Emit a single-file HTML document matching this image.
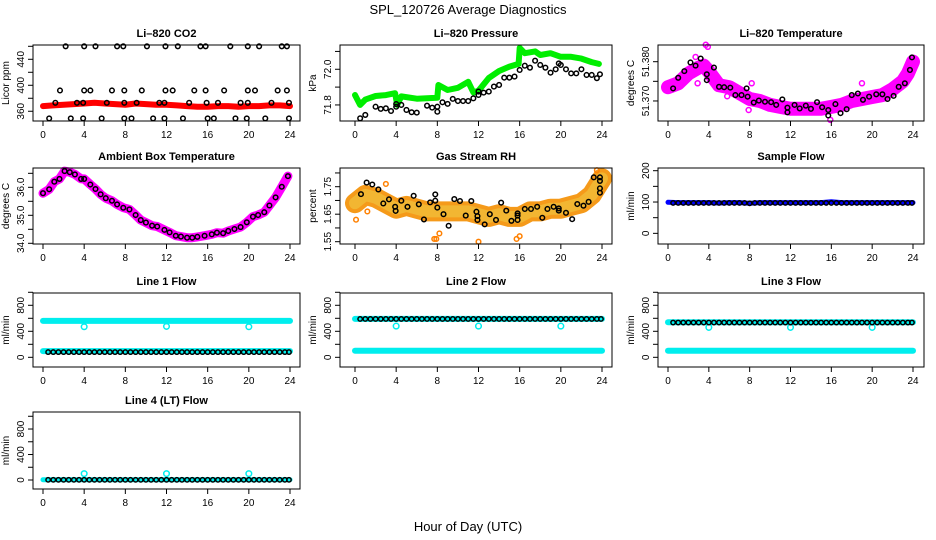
<!DOCTYPE html>
<html><head><meta charset="utf-8"><style>
html,body{margin:0;padding:0;background:#fff;}
svg{display:block;font-family:"Liberation Sans",sans-serif;}
</style></head><body>
<svg id="chart" width="936" height="540" viewBox="0 0 936 540" xmlns="http://www.w3.org/2000/svg">
<text x="468" y="14" text-anchor="middle" font-size="13">SPL_120726  Average Diagnostics</text>
<text x="468" y="531" text-anchor="middle" font-size="13">Hour of Day (UTC)</text>
</svg>
<script>
const hours=[0,1,2,3,4,5,6,7,8,9,10,11,12,13,14,15,16,17,18,19,20,21,22,23,24];
const halfHours=[0.5,1,1.5,2,2.5,3,3.5,4,4.5,5,5.5,6,6.5,7,7.5,8,8.5,9,9.5,10,10.5,11,11.5,12,12.5,13,13.5,14,14.5,15,15.5,16,16.5,17,17.5,18,18.5,19,19.5,20,20.5,21,21.5,22,22.5,23,23.5,23.9];
const xTicks=[0,4,8,12,16,20,24];

// CO2
const co2BandVals=[368,369,370,371,372,373,372,371,370,372,371,370,370,369,368,367,367,368,368,367,368,368,369,369,368];
const co2BlackHours=[2.2,4.0,5.1,7.2,7.8,10.1,11.9,13.1,15.3,15.8,18.2,19.9,21.0,23.2,23.7,
1.65,4.0,4.6,6.7,7.9,9.6,11.9,12.6,14.7,15.8,17.6,19.9,20.6,22.8,23.7,
1.2,3.3,3.9,6.2,7.9,9.1,11.3,11.8,14.2,15.9,17.0,19.2,19.9,22.2,23.9,
0.6,2.7,3.9,5.7,7.9,8.6,10.7,11.8,13.6,16.0,16.6,18.7,19.8,21.6,23.9];
const co2BlackVals=[460,460,460,460,460,460,460,460,460,460,460,460,460,460,460,
392,392,392,392,392,392,392,392,392,392,392,392,392,392,392,
373,373,373,373,373,373,373,373,373,373,373,373,373,373,373,
349,349,349,349,349,349,349,349,349,349,349,349,349,349,349];

// Pressure
const presGreenHours=[0,0.5,1,2,3,3.9,4.1,4.5,6,8,8.1,9,10,11,11.5,12,13,14,15,15.9,16,16.5,17.5,18,19,20,21,22,23,23.7];
const presGreenVals=[71.856,71.80,71.83,71.85,71.855,71.866,71.80,71.848,71.835,71.84,71.912,71.884,71.896,71.93,71.87,71.88,71.951,71.99,72.015,72.03,72.12,72.09,72.10,72.08,72.09,72.07,72.07,72.06,72.04,72.03];
const presBlackHours=[0.5,1,2,2.5,3,3.5,4,4,4.5,5,5.5,6,7,7.5,8,8,8.5,9,9.5,10,10.5,11,11.5,12,12,12.5,13,13.5,14,14.5,15,15.5,16,16.5,17,17.5,18,18.5,19,19.5,19.8,20,20.5,21,21.5,22,22.5,23,23.5,23.8];
const presBlackVals=[71.725,71.744,71.790,71.778,71.781,71.766,71.805,71.790,71.800,71.772,71.759,71.757,71.796,71.785,71.790,71.762,71.815,71.806,71.834,71.822,71.822,71.822,71.837,71.856,71.875,71.869,71.875,71.903,71.912,71.953,71.953,71.959,71.996,72.020,72.009,72.048,72.024,72.009,71.981,72.000,72.033,72.024,72.000,71.977,71.977,72.000,71.968,71.968,71.950,71.972];

// Li-820 temperature
const tempBandHours=[0,1,2,3,3.5,4,5,6,7,8,9,10,11,12,13,14,15,16,17,18,19,20,21,22,23,23.5,24];
const tempBandVals=[51.3735,51.3745,51.377,51.3785,51.379,51.3775,51.374,51.3735,51.372,51.3705,51.370,51.369,51.3685,51.368,51.368,51.368,51.368,51.3685,51.369,51.370,51.3705,51.371,51.3715,51.373,51.375,51.377,51.380];
const tempBlackHours=[0.5,1.0,1.6,2.2,2.7,3.2,3.8,3.8,4.5,5.0,5.5,6.1,6.6,7.2,7.7,7.8,8.4,8.9,9.5,10.1,10.6,11.2,11.7,11.7,12.4,12.9,13.5,14.0,14.6,15.1,15.7,15.7,16.4,16.9,17.5,18.0,18.6,19.1,19.7,20.4,21.0,21.5,22.1,22.6,23.2,23.7,23.9];
const tempBlackVals=[51.3732,51.3759,51.3776,51.3798,51.3790,51.3808,51.3768,51.3753,51.3785,51.3736,51.3735,51.3734,51.3715,51.3715,51.3732,51.3711,51.3696,51.3701,51.3698,51.3697,51.3690,51.3704,51.3683,51.3671,51.3690,51.3681,51.3688,51.3680,51.3697,51.3684,51.3677,51.3663,51.3692,51.3669,51.3679,51.3715,51.3719,51.3703,51.3711,51.3717,51.3717,51.3705,51.3713,51.3736,51.3745,51.3779,51.3811];
const tempOutHours=[2.7,3.7,3.9,2.9,5.8,7.9,8.2,14.1,15.9,19.0];
const tempOutVals=[51.3812,51.3843,51.3838,51.3745,51.3712,51.3677,51.3745,51.3685,51.3652,51.3745];

// Ambient
const ambHours=[0,0.6,1.1,1.6,2.1,2.6,3.1,3.7,4.0,4.6,5.1,5.6,6.1,6.7,7.2,7.8,8.4,9.0,9.5,10.0,10.6,11.1,11.8,12.3,12.9,13.4,14.0,14.5,15.0,15.7,16.4,16.9,17.5,18.0,18.6,19.2,19.8,20.4,20.9,21.5,22.0,22.6,23.2,23.8];
const ambVals=[35.79,35.93,36.2,36.3,36.58,36.54,36.46,36.3,36.3,36.1,35.94,35.75,35.61,35.52,35.39,35.27,35.21,35.01,34.83,34.74,34.63,34.6,34.48,34.39,34.27,34.24,34.2,34.2,34.23,34.27,34.32,34.38,34.36,34.44,34.51,34.58,34.75,34.95,35.01,35.11,35.35,35.64,36.02,36.4];

// RH
const rhBandVals=[1.69,1.72,1.71,1.69,1.67,1.68,1.67,1.66,1.66,1.66,1.66,1.66,1.65,1.64,1.65,1.64,1.64,1.66,1.66,1.67,1.67,1.68,1.69,1.72,1.78];
const rhBlackHours=[0.58,1.13,1.68,2.27,2.75,3.3,3.9,3.95,4.5,5.1,5.7,6.2,6.7,7.3,7.8,7.8,8.0,8.6,9.1,9.65,10.2,10.76,11.3,11.8,11.9,11.9,12.6,13.1,13.7,14.2,14.7,15.2,15.8,15.8,15.8,16.5,17.1,17.7,18.2,18.7,19.3,19.8,19.8,20.5,21.1,21.6,22.2,22.7,23.2,23.8,23.8,23.8,23.8];
const rhBlackVals=[1.723,1.765,1.758,1.740,1.689,1.704,1.677,1.662,1.699,1.677,1.717,1.686,1.631,1.693,1.722,1.699,1.674,1.65,1.608,1.705,1.698,1.645,1.698,1.659,1.643,1.629,1.613,1.65,1.629,1.692,1.663,1.626,1.653,1.629,1.645,1.669,1.669,1.677,1.637,1.669,1.677,1.671,1.663,1.655,1.632,1.687,1.681,1.695,1.784,1.784,1.744,1.728,1.771];
const rhOutHours=[0.1,1.2,3.0,7.7,7.9,8.2,12.0,15.7,16.0,23.5];
const rhOutVals=[1.63,1.66,1.76,1.56,1.56,1.58,1.55,1.56,1.57,1.81];

// Flows
const sampleBandVals=[99,98,98,98,98,97,98,98,96,98,98,98,98,98,98,98,101,98,98,98,98,98,98,98,98];
const sampleBlackVals=[97,97,97,97,97,97,97,97,97,97,97,97,97,97,97,96,97,97,97,97,97,97,97,97,97,97,97,97,97,97,97,97,97,97,97,97,97,97,97,97,97,97,97,97,97,97,97,97];
const line1HighVals=[560,560,560,560,560,560,560,560,560,560,560,560,560,560,560,560,560,560,560,560,560,560,560,560,560];
const line1LowVals=[95,95,95,95,95,95,95,95,95,95,95,95,95,95,95,95,95,95,95,95,95,95,95,95,95];
const line1BlackVals=[80,80,80,80,80,80,80,80,80,80,80,80,80,80,80,80,80,80,80,80,80,80,80,80,80,80,80,80,80,80,80,80,80,80,80,80,80,80,80,80,80,80,80,80,80,80,80,80];
const line2HighVals=[590,590,590,590,590,590,590,590,590,590,590,590,590,590,590,590,590,590,590,590,590,590,590,590,590];
const line2LowVals=[100,100,100,100,100,100,100,100,100,100,100,100,100,100,100,100,100,100,100,100,100,100,100,100,100];
const line2BlackVals=[590,590,590,590,590,590,590,590,590,590,590,590,590,590,590,590,590,590,590,590,590,590,590,590,590,590,590,590,590,590,590,590,590,590,590,590,590,590,590,590,590,590,590,590,590,590,590,590];
const line3HighVals=[540,540,540,540,540,540,540,540,540,540,540,540,540,540,540,540,540,540,540,540,540,540,540,540,540];
const line3LowVals=[100,100,100,100,100,100,100,100,100,100,100,100,100,100,100,100,100,100,100,100,100,100,100,100,100];
const line3BlackVals=[535,535,535,535,535,535,535,535,535,535,535,535,535,535,535,535,535,535,535,535,535,535,535,535,535,535,535,535,535,535,535,535,535,535,535,535,535,535,535,535,535,535,535,535,535,535,535,535];
const line4LowVals=[5,5,5,5,5,5,5,5,5,5,5,5,5,5,5,5,5,5,5,5,5,5,5,5,5];
const line4BlackVals=[3,3,3,3,3,3,3,3,3,3,3,3,3,3,3,3,3,3,3,3,3,3,3,3,3,3,3,3,3,3,3,3,3,3,3,3,3,3,3,3,3,3,3,3,3,3,3,3];
const outlierHours=[4,12,20];
const line1OutVals=[470,475,470];
const line2OutVals=[480,480,480];
const line3OutVals=[460,460,460];
const line4OutVals=[100,100,100];

const NS="http://www.w3.org/2000/svg";
const svg=document.getElementById('chart');
function mk(tag,attrs,parent){const e=document.createElementNS(NS,tag);for(const k in attrs)e.setAttribute(k,attrs[k]);(parent||svg).appendChild(e);return e;}

function panel(p){
  const g=mk('g',{});
  
  
  const xs=h=>p.x0+(h/24)*(p.x24-p.x0);
  const ys=v=>p.bottom-(v-p.ymin)/(p.ymax-p.ymin)*(p.bottom-p.top);
  const title=mk('text',{x:(p.left+p.right)/2,y:p.top-8,'text-anchor':'middle','font-size':11,'font-weight':'bold'},g);
  title.textContent=p.title;
  
  
  const plot=mk('g',{},g);
  
  
  p.draw(plot,xs,ys);
  const box=mk('rect',{x:p.left,y:p.top,width:p.right-p.left,height:p.bottom-p.top,fill:'none',stroke:'#000','stroke-width':1},g);
  
  
  const xa=mk('g',{},g);
  
  
  mk('line',{x1:xs(0),x2:xs(24),y1:p.bottom,y2:p.bottom,stroke:'#000'},xa);
  xTicks.forEach(t=>{
    mk('line',{x1:xs(t),x2:xs(t),y1:p.bottom,y2:p.bottom+5,stroke:'#000'},xa);
    const tl=mk('text',{x:xs(t),y:p.bottom+17,'text-anchor':'middle','font-size':10},xa);
    tl.textContent=t;
    
    
  });
  const ya=mk('g',{},g);
  
  
  mk('line',{x1:p.left,x2:p.left,y1:ys(p.yticks[0]),y2:ys(p.yticks[p.yticks.length-1]),stroke:'#000'},ya);
  p.yticks.forEach(t=>{
    mk('line',{x1:p.left-5,x2:p.left,y1:ys(t),y2:ys(t),stroke:'#000'},ya);
  });
  p.ylabels.forEach((lab,i)=>{
    const y=ys(p.ylabelVals[i]);
    const tl=mk('text',{x:p.left-9,y:y,'text-anchor':'middle','font-size':10,transform:`rotate(-90 ${p.left-9} ${y})`},ya);
    tl.textContent=lab;
    
    
  });
  const cy=(p.top+p.bottom)/2, cx=p.left-24;
  const yt=mk('text',{x:cx,y:cy,'text-anchor':'middle','font-size':10,transform:`rotate(-90 ${cx} ${cy})`},g);
  yt.textContent=p.ylab;
  
  
}

function band(parent,hs,vals,xs,ys,color,w,name){
  const pts=hs.map((h,i)=>xs(h).toFixed(1)+','+ys(vals[i]).toFixed(1)).join(' ');
  const pl=mk('polyline',{points:pts,fill:'none',stroke:color,'stroke-width':w,'stroke-linejoin':'round','stroke-linecap':'round'},parent);
  
  
}
function pts(parent,hs,vals,xs,ys,color,r,name){
  hs.forEach((h,i)=>{
    const c=mk('circle',{cx:xs(h),cy:ys(vals[i]),r:r,fill:'none',stroke:color,'stroke-width':1.5},parent);
    
    
  });
}

const C1={left:33,right:300,x0:43,x24:290}, C2={left:340,right:612,x0:355,x24:602}, C3={left:658,right:924,x0:668,x24:913};
const R1={top:45,bottom:121},R2={top:168,bottom:244},R3={top:293,bottom:367},R4={top:412,bottom:489};
const flowTicks=[0,200,400,600,800,1000];

const panels=[
 Object.assign({name:'panel-co2',title:'Li–820 CO2',ylab:'Licor ppm',ymin:345,ymax:462,yticks:[360,380,400,420,440,460],ylabels:['360','400','440'],ylabelVals:[360,400,440],
  draw:(g,xs,ys)=>{band(g,hours,co2BandVals,xs,ys,'#ff0000',6,'co2-series-red');pts(g,co2BlackHours,co2BlackVals,xs,ys,'#000',2.3,'co2-point');}},C1,R1),
 Object.assign({name:'panel-pressure',title:'Li–820 Pressure',ylab:'kPa',ymin:71.71,ymax:72.136,yticks:[71.8,71.9,72.0,72.1],ylabels:['71.8','72.0'],ylabelVals:[71.8,72.0],
  draw:(g,xs,ys)=>{band(g,presGreenHours,presGreenVals,xs,ys,'#00ee00',6,'pressure-series-green');pts(g,presBlackHours,presBlackVals,xs,ys,'#000',2.3,'pressure-point');}},C2,R1),
 Object.assign({name:'panel-li820-temperature',title:'Li–820 Temperature',ylab:'degrees C',ymin:51.3649,ymax:51.38425,yticks:[51.370,51.375,51.380],ylabels:['51.370','51.380'],ylabelVals:[51.370,51.380],
  draw:(g,xs,ys)=>{band(g,tempBandHours,tempBandVals,xs,ys,'#ff00ff',14,'temperature-series-magenta');pts(g,tempOutHours,tempOutVals,xs,ys,'#ff00ff',2.5,'temperature-outlier');pts(g,tempBlackHours,tempBlackVals,xs,ys,'#000',2.3,'temperature-point');}},C3,R1),
 Object.assign({name:'panel-ambient-temperature',title:'Ambient Box Temperature',ylab:'degrees C',ymin:33.975,ymax:36.69,yticks:[34,34.5,35,35.5,36,36.5],ylabels:['34.0','35.0','36.0'],ylabelVals:[34,35,36],
  draw:(g,xs,ys)=>{band(g,ambHours,ambVals,xs,ys,'#ff00ff',9,'ambient-series-magenta');pts(g,ambHours,ambVals,xs,ys,'#000',2.3,'ambient-point');}},C1,R2),
 Object.assign({name:'panel-gas-stream-rh',title:'Gas Stream RH',ylab:'percent',ymin:1.5416,ymax:1.818,yticks:[1.55,1.60,1.65,1.70,1.75,1.80],ylabels:['1.55','1.65','1.75'],ylabelVals:[1.55,1.65,1.75],
  draw:(g,xs,ys)=>{band(g,hours,rhBandVals,xs,ys,'#f59a1a',20,'rh-series-orange');band(g,hours,rhBandVals,xs,ys,'#f2b632',12,'rh-series-yellow');pts(g,rhOutHours,rhOutVals,xs,ys,'#ff8000',2.3,'rh-outlier');pts(g,rhBlackHours,rhBlackVals,xs,ys,'#000',2.3,'rh-point');}},C2,R2),
 Object.assign({name:'panel-sample-flow',title:'Sample Flow',ylab:'ml/min',ymin:-34,ymax:208.6,yticks:[0,50,100,150,200],ylabels:['0','100','200'],ylabelVals:[0,100,200],
  draw:(g,xs,ys)=>{band(g,hours,sampleBandVals,xs,ys,'#0000ff',5,'sample-flow-series-blue');pts(g,halfHours,sampleBlackVals,xs,ys,'#000',2.2,'sample-flow-point');}},C3,R2),
 Object.assign({name:'panel-line1-flow',title:'Line 1 Flow',ylab:'ml/min',ymin:-149,ymax:989,yticks:flowTicks,ylabels:['0','400','800'],ylabelVals:[0,400,800],
  draw:(g,xs,ys)=>{band(g,hours,line1HighVals,xs,ys,'#00eeee',6,'line1-series-cyan-high');band(g,hours,line1LowVals,xs,ys,'#00eeee',6,'line1-series-cyan-low');pts(g,outlierHours,line1OutVals,xs,ys,'#00eeee',2.8,'line1-outlier');pts(g,halfHours,line1BlackVals,xs,ys,'#000',2.2,'line1-point');}},C1,R3),
 Object.assign({name:'panel-line2-flow',title:'Line 2 Flow',ylab:'ml/min',ymin:-149,ymax:989,yticks:flowTicks,ylabels:['0','400','800'],ylabelVals:[0,400,800],
  draw:(g,xs,ys)=>{band(g,hours,line2HighVals,xs,ys,'#00eeee',6,'line2-series-cyan-high');band(g,hours,line2LowVals,xs,ys,'#00eeee',6,'line2-series-cyan-low');pts(g,outlierHours,line2OutVals,xs,ys,'#00eeee',2.8,'line2-outlier');pts(g,halfHours,line2BlackVals,xs,ys,'#000',2.2,'line2-point');}},C2,R3),
 Object.assign({name:'panel-line3-flow',title:'Line 3 Flow',ylab:'ml/min',ymin:-149,ymax:989,yticks:flowTicks,ylabels:['0','400','800'],ylabelVals:[0,400,800],
  draw:(g,xs,ys)=>{band(g,hours,line3HighVals,xs,ys,'#00eeee',6,'line3-series-cyan-high');band(g,hours,line3LowVals,xs,ys,'#00eeee',6,'line3-series-cyan-low');pts(g,outlierHours,line3OutVals,xs,ys,'#00eeee',2.8,'line3-outlier');pts(g,halfHours,line3BlackVals,xs,ys,'#000',2.2,'line3-point');}},C3,R3),
 Object.assign({name:'panel-line4-flow',title:'Line 4 (LT) Flow',ylab:'ml/min',ymin:-141,ymax:1067,yticks:flowTicks,ylabels:['0','400','800'],ylabelVals:[0,400,800],
  draw:(g,xs,ys)=>{band(g,hours,line4LowVals,xs,ys,'#00eeee',5,'line4-series-cyan');pts(g,outlierHours,line4OutVals,xs,ys,'#00eeee',2.8,'line4-outlier');pts(g,halfHours,line4BlackVals,xs,ys,'#000',2.2,'line4-point');}},C1,R4)
];
panels.forEach(panel);
</script>
</body></html>
